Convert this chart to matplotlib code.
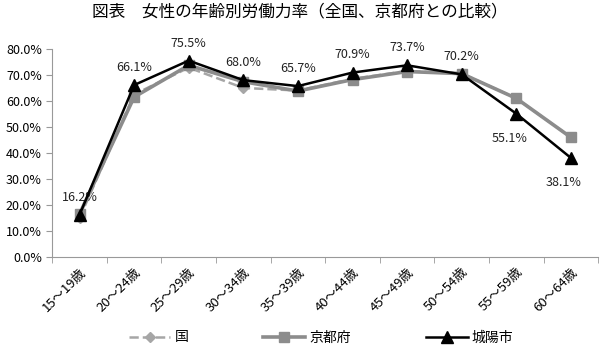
import matplotlib.pyplot as plt
import numpy as np

plt.rcParams['font.family'] = ['Noto Sans CJK JP', 'DejaVu Sans']

# age groups and rates (%)
ages = ['15～19歳', '20～24歳', '25～29歳', '30～34歳', '35～39歳',
        '40～44歳', '45～49歳', '50～54歳', '55～59歳', '60～64歳']
kuni = [15.0, 62.5, 72.8, 65.0, 64.0, 68.5, 71.5, 70.6, 61.0, 46.0]
kyoto = [16.5, 61.5, 73.7, 67.4, 63.8, 68.2, 71.3, 70.5, 61.0, 46.0]
joyo = [16.2, 66.1, 75.5, 68.0, 65.7, 70.9, 73.7, 70.2, 55.1, 38.1]
# label placement for 城陽市: 1 = above, -1 = below
label_side = [1, 1, 1, 1, 1, 1, 1, 1, -1, -1]

fig = plt.figure(figsize=(6, 3.57), dpi=100)
ax = fig.add_axes([0.087, 0.28, 0.91, 0.583])

x = np.arange(len(ages))
ax.plot(x, kuni, color='#a6a6a6', linestyle='--', linewidth=1.8,
        marker='D', markersize=5, label='国', zorder=2)
ax.plot(x, kyoto, color='#8c8c8c', linestyle='-', linewidth=2.6,
        marker='s', markersize=7, label='京都府', zorder=3)
ax.plot(x, joyo, color='black', linestyle='-', linewidth=1.8,
        marker='^', markersize=8, label='城陽市', zorder=4)

for xi, v, s in zip(x, joyo, label_side):
    if s > 0:
        ax.annotate(f'{v:.1f}%', (xi, v), xytext=(0, 8), textcoords='offset points',
                    ha='center', va='bottom', fontsize=9, color='#222222')
    else:
        ax.annotate(f'{v:.1f}%', (xi, v), xytext=(-5, -18), textcoords='offset points',
                    ha='center', va='center', fontsize=9, color='#222222')

ax.set_xlim(-0.5, len(ages) - 0.5)
ax.set_ylim(0, 80)
ax.set_yticks(np.arange(0, 81, 10))
ax.set_yticklabels([f'{v:.1f}%' for v in np.arange(0, 81, 10)], fontsize=9)
ax.set_xticks(x)
ax.set_xticklabels(ages, rotation=45, ha='right', rotation_mode='anchor', fontsize=9.5)
ax.set_xticks(np.arange(-0.5, len(ages), 1), minor=True)
ax.tick_params(axis='x', which='major', length=0, pad=6)
ax.tick_params(axis='x', which='minor', length=4, color='#999999')
ax.tick_params(axis='y', length=4, color='#999999')

for side in ['top', 'right']:
    ax.spines[side].set_visible(False)
for side in ['left', 'bottom']:
    ax.spines[side].set_color('#999999')

fig.suptitle('図表　女性の年齢別労働力率（全国、京都府との比較）', fontsize=12, y=0.99)

fig.legend(loc='lower center', bbox_to_anchor=(0.535, 0.0), ncol=3, frameon=False,
           fontsize=10, handlelength=3.0, handletextpad=0.3, columnspacing=5.4)

fig.savefig('out.png', dpi=100)
